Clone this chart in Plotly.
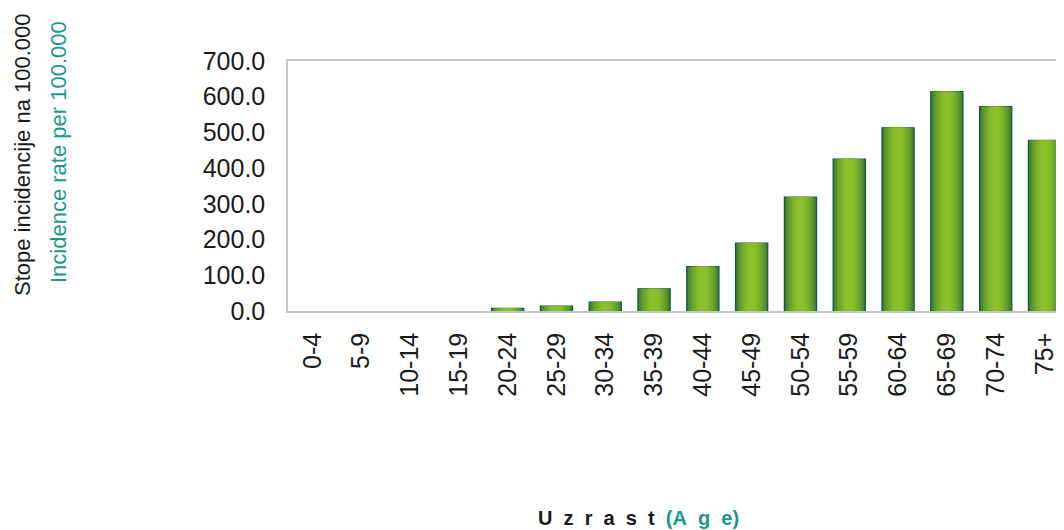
import plotly.graph_objects as go

categories = ["0-4", "5-9", "10-14", "15-19", "20-24", "25-29", "30-34", "35-39",
              "40-44", "45-49", "50-54", "55-59", "60-64", "65-69", "70-74", "75+"]
rates = [0.0, 0.0, 0.0, 0.0, 7.6, 14.0, 25.0, 62.0,
         124.0, 190.0, 319.0, 425.0, 513.0, 614.0, 572.0, 478.0]
y_ticks = [0, 100, 200, 300, 400, 500, 600, 700]

# horizontal "cylinder" gradient, simulated with overlaid bars of decreasing width
layer_widths = [0.66, 0.60, 0.52, 0.44, 0.36, 0.28, 0.20, 0.12]
layer_colors = ["#3f7a2f", "#4f8a2e", "#5f9a2d", "#6ca62c", "#77af2c", "#80b72b", "#87bc2b", "#8cc02b"]

outline_w = [1.2 if r >= 1 else 0 for r in rates]

fig = go.Figure()
for i, (w, c) in enumerate(zip(layer_widths, layer_colors)):
    fig.add_trace(go.Bar(
        x=list(range(len(categories))), y=rates, width=w,
        marker=dict(color=c,
                    line=dict(color="#0f5a3c" if i == 0 else c,
                              width=outline_w if i == 0 else 0)),
        showlegend=False, hoverinfo="skip" if i else None,
    ))

teal = "#1a9988"
sp = "&nbsp; "
age_label = ("<b>" + sp.join("Uzrast") + sp
             + "<span style='color:%s'>(A&nbsp; g&nbsp; e)</span></b>" % teal)

# the page adds an 8px body margin, so the figure is 8px smaller than the window
fig.update_layout(
    width=1056, height=522,
    margin=dict(l=280, r=0, t=53, b=219),
    barmode="overlay",
    plot_bgcolor="white", paper_bgcolor="white",
    font=dict(family="Liberation Sans, Arial", color="#1a1a1a"),
    xaxis=dict(
        tickmode="array", tickvals=list(range(len(categories))), ticktext=categories,
        tickangle=-90, range=[-0.5, 15.4],
        showline=True, linecolor="#c4c6c8", linewidth=1.5, mirror=True,
        showgrid=False, zeroline=False, ticks="",
        tickfont=dict(size=25, color="#1a1a1a"), ticklabelstandoff=10,
    ),
    yaxis=dict(
        range=[0, 700], tickmode="array", tickvals=y_ticks,
        ticktext=[f"{v:.1f}" for v in y_ticks],
        showline=True, linecolor="#c4c6c8", linewidth=1.5,
        showgrid=False, zeroline=False, ticks="",
        tickfont=dict(size=25, color="#1a1a1a"), ticklabelstandoff=16,
    ),
    annotations=[
        dict(text="Stope incidencije na 100.000", textangle=-90,
             xref="paper", yref="paper", x=(22 - 288) / 776, y=(311 - 155) / 250,
             xanchor="center", yanchor="middle", showarrow=False,
             font=dict(size=22, color="#1a1a1a")),
        dict(text="Incidence rate per 100.000", textangle=-90,
             xref="paper", yref="paper", x=(58 - 288) / 776, y=(311 - 152) / 250,
             xanchor="center", yanchor="middle", showarrow=False,
             font=dict(size=22, color=teal)),
        dict(text=age_label,
             xref="paper", yref="paper", x=(638 - 288) / 776, y=(311 - 518) / 250,
             xanchor="center", yanchor="middle", showarrow=False,
             font=dict(size=20, color="#1a1a1a")),
    ],
)

fig.write_html("out.html")
